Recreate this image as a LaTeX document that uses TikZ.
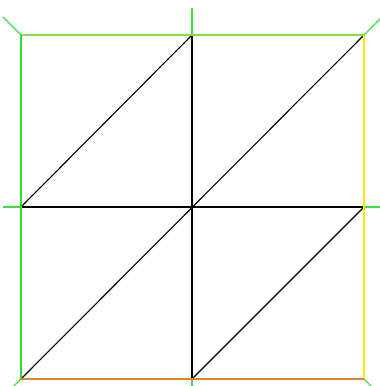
\documentclass[tikz,border=0pt]{standalone}
\begin{document}
\begin{tikzpicture}[x=1pt,y=-1pt,
  inner/.style={draw=black,line width=1.1pt},
  stub/.style={draw=stubgreen,line width=1.1pt},
  edgeline/.style={line width=1.6pt}]
\definecolor{stubgreen}{RGB}{60,225,60}
\definecolor{topgreen}{RGB}{130,225,60}
\definecolor{leftgreen}{RGB}{50,215,50}
\definecolor{rightyellow}{RGB}{250,235,0}
\definecolor{botorange}{RGB}{225,130,45}
\useasboundingbox (0,0) rectangle (380,386);
\coordinate (tl) at (21,35);
\coordinate (tm) at (192,35);
\coordinate (tr) at (364,35);
\coordinate (ml) at (21,207);
\coordinate (mm) at (192,207);
\coordinate (mr) at (364,207);
\coordinate (bl) at (21,379);
\coordinate (bm) at (192,379);
\coordinate (br) at (364,379);
% stub ends
\coordinate (stl) at (3,17);
\coordinate (stm) at (192,8);
\coordinate (str) at (382,17);
\coordinate (sml) at (3,207);
\coordinate (smr) at (382,207);
\coordinate (sbl) at (12,388);
\coordinate (sbm) at (192,388);
\coordinate (sbr) at (373,388);
% interior
\draw[inner] (tm) -- (bm);
\draw[inner] (ml) -- (mr);
\draw[inner] (ml) -- (tm);
\draw[inner] (bl) -- (tr);
\draw[inner] (bm) -- (mr);
% stubs
\draw[stub] (tl) -- (stl);
\draw[stub] (tm) -- (stm);
\draw[stub] (tr) -- (str);
\draw[stub] (ml) -- (sml);
\draw[stub] (mr) -- (smr);
\draw[stub] (bl) -- (sbl);
\draw[stub] (bm) -- (sbm);
\draw[stub] (br) -- (sbr);
% boundary
\draw[edgeline,topgreen] (tl) -- (tr);
\draw[edgeline,leftgreen] (tl) -- (bl);
\draw[edgeline,rightyellow] (tr) -- (br);
\draw[edgeline,botorange] (bl) -- (br);
\end{tikzpicture}
\end{document}
